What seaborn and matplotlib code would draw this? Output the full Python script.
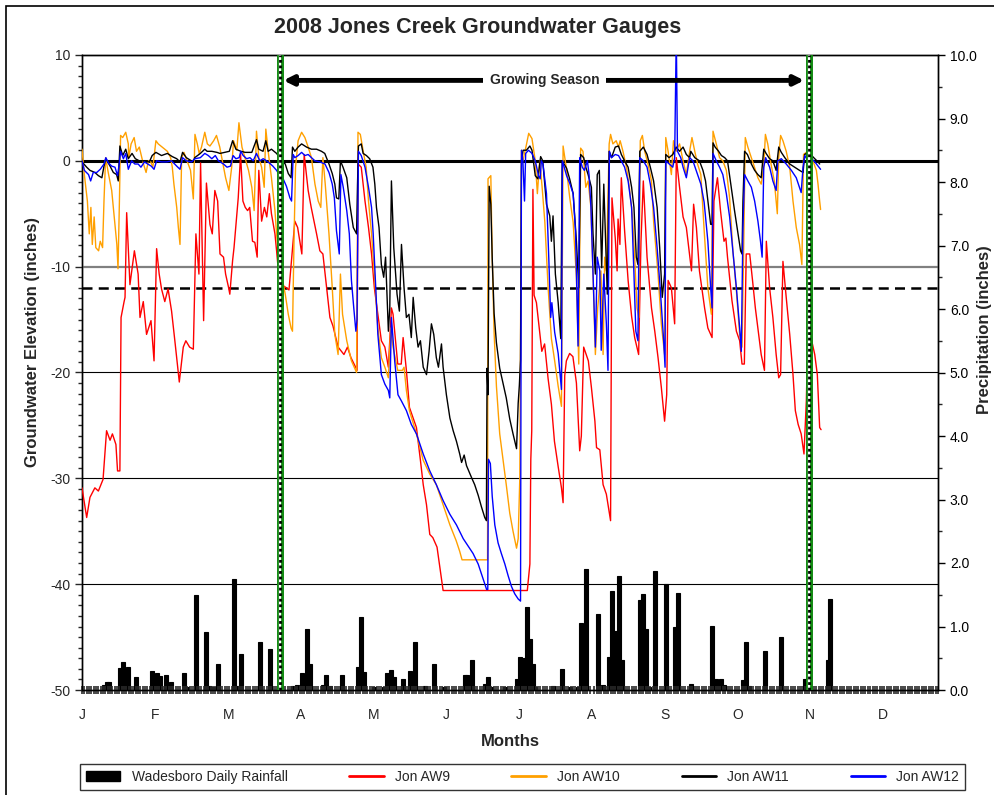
#2008 Jones Creek groundwater gauges with Wadesboro daily rainfall
import pandas as pd
import matplotlib
matplotlib.use("Agg")
import matplotlib.pyplot as plt
import seaborn as sns
from matplotlib.ticker import MultipleLocator, FormatStrFormatter
from matplotlib.patches import Patch, Rectangle
from matplotlib.lines import Line2D

sns.set_theme(style="white")
plt.rcParams["font.family"] = ["Liberation Sans", "DejaVu Sans"]
plt.rcParams["axes.unicode_minus"] = False

# day of year (0 = Jan 1) and water level (inches)
aw9_day = [0, 2, 3.4, 5.5, 7, 9, 10.5, 12, 13, 14.5, 15.2, 16.2, 16.7, 18, 18.4, 19.1, 20.5, 22.4, 24, 24.8,
           26.2, 27.6, 29.5, 30.8, 31.9, 33, 34, 35.4, 36.8, 38.3, 39.7, 41.6, 43.3, 44.4, 46, 47.6, 48.7, 50,
           50.7, 52, 53.2, 54.7, 55.7, 56.8, 58, 59, 60.5, 61.4, 62.7, 63.2, 64.4, 65, 66.8, 67.8, 68.8, 69.8,
           70.8, 71.7, 72.9, 73.9, 74.9, 75.6, 76.8, 78, 79, 80.1, 81, 82.5, 83.2, 84.2, 85, 86, 87.4, 88.5,
           90.3, 91, 92.2, 94, 95, 96.7, 98, 100.3, 101.7, 103, 104.6, 106, 107.3, 109.5, 112, 113.5, 115, 117,
           117.6, 118, 119.4, 121, 122.5, 123.8, 125, 126.5, 128, 129.5, 131, 132.3, 133, 135, 136.5, 137.3,
           138.7, 140, 143, 144.7, 145.9, 147.3, 148.7, 150, 151.8, 153, 154.4, 190.4, 191.5, 191.9, 192.3,
           192.8, 193.3, 194.3, 195.7, 196.6, 197.8, 199.3, 200.7, 202, 203.6, 205, 205.7, 206.4, 207.1, 208.5,
           209.9, 211.4, 212.8, 213.5, 214.5, 216.5, 217.8, 219.3, 220, 221.4, 222.8, 224.2, 225.6, 226, 226.6,
           228, 228.8, 229.2, 230, 230.6, 232, 233.5, 235, 236.3, 238, 239, 240, 241.6, 243.5, 244.9, 246.3,
           247.7, 249.1, 250, 250.6, 252, 253.4, 254.1, 255.5, 257, 258.4, 260.6, 261.5, 262.7, 264, 266.2,
           267.6, 269.4, 270.2, 271.7, 273, 274.5, 275.3, 276, 277.9, 279.8, 281.2, 282.2, 283.2, 284, 285.5,
           286.7, 287.9, 289, 290.4, 291.8, 292.6, 294, 295.4, 296.8, 297.9, 298.7, 299.7, 301.1, 302.6, 304,
           305, 306.2, 307.5, 308.7, 309.7, 310.4, 311.1, 312, 313.3, 314.4, 315.4, 316]
aw9_in = [-30.9, -33.7, -31.8, -30.9, -31.2, -30.1, -25.5, -26.4, -25.8, -26.8, -29.3, -29.3, -14.8, -13.3, -12.9,
          -4.9, -11.7, -8.5, -10.7, -14.8, -13.3, -16.4, -15.1, -18.9, -8.3, -10.7, -12.1, -13.3, -12.1, -14.2,
          -17, -20.9, -17.6, -17, -17.6, -17.8, -6.9, -10.7, -0.2, -15.1, -2.1, -6.0, -6.9, -2.8, -3.8, -8.8,
          -9.1, -10.7, -12, -12.6, -9.4, -8.2, -3.5, 0.6, -3.8, -4.4, -4.7, -4.4, -7.6, -7.7, -9.1, -0.9, -5.7,
          -4.4, -5.3, -3.1, -5.0, -6.9, -8.5, -11, -12, -11.8, -12, -12.2, -7.6, -5.7, -6.3, -8.8, 0.6, -2.8,
          -4.4, -6.9, -8.5, -8.8, -12, -14.8, -15.6, -17.6, -18.3, -17.6, -18.6, -19.5, -19.8, -0.3, -0.6,
          -3.8, -6.3, -8.8, -12, -14.5, -17, -17.6, -19.5, -13.9, -14.5, -19.2, -19.2, -16.7, -19.8, -23.3,
          -25.2, -28.3, -30.6, -32.5, -35.3, -35.6, -36.5, -38.4, -40.6, -40.6, -38.1, -28.2, -25.5, -2.7,
          -12.7, -13.4, -16.2, -18.0, -17.3, -20.6, -23, -26.5, -28.9, -30.9, -32.3, -20.3, -18.9, -18.2, -18.5,
          -21, -27.4, -26, -17.6, -18.9, -21.4, -24.6, -27.1, -27.3, -30.6, -31.5, -33.4, -34, -3.5, -7.3,
          -10.4, -5.5, -7.9, -1.6, -6.6, -11.3, -14.7, -16.7, -18.3, -7.6, -1.9, -9.1, -13.9, -16.1, -18.6,
          -21.4, -24.6, -22.1, -11.3, -12, -15.4, 0.3, -2.5, -5.3, -6.3, -10.4, -4.1, -6.3, -10.4, -13.9,
          -15.8, -16.7, -3.8, -1.6, -4.7, -7.6, -7.3, -9.1, -13.2, -16.1, -17, -19.2, -19.2, -8.8, -8.8,
          -11.3, -13.9, -15.8, -18.3, -19.8, -7.6, -12, -14.8, -18.3, -20.5, -20.2, -9.5, -12.9, -16.4, -20.2,
          -23.6, -24.9, -25.8, -27.7, -22.7, -15.8, -14.8, -17, -18.3, -20.2, -25.2, -25.4]

aw10_day = [0, 1, 2.3, 3.1, 3.8, 4.4, 5.2, 5.9, 7.1, 7.8, 8.8, 9.4, 10.1, 11.3, 12.7, 13.9, 14.9, 15.4, 16,
            16.5, 17.4, 18.7, 19.8, 20, 21, 22.3, 23.3, 24.5, 25.9, 27.4, 28.4, 29.4, 30.3, 31.6, 32.6, 34.3,
            36.5, 37.9, 38.6, 39.3, 40.5, 41.2, 41.9, 42.6, 43.6, 44.9, 46.4, 47.6, 48.3, 49.3, 50.1, 51.1,
            52.5, 53.6, 54.7, 56.3, 57.5, 58.9, 60, 61.4, 62.8, 64, 64.8, 66.2, 67.1, 68.4, 69.8, 71.2, 72.6,
            73.6, 74.6, 75.6, 76.8, 77.9, 78.6, 79.6, 81, 82.5, 83.2, 84.2, 85.5, 86.9, 88.2, 89.4, 90, 90.7,
            91.3, 92.4, 93.9, 95.3, 96.7, 98.1, 99.6, 101, 102.1, 103, 104, 105.6, 107, 108.1, 109.5, 110.5,
            111.4, 113.2, 115.2, 117.4, 117.8, 118, 119, 120.4, 121.5, 122.5, 123.8, 125.2, 126.5, 128, 129.5,
            131, 132, 133, 135, 137, 137.7, 138.7, 140, 143, 145.9, 148.7, 151.5, 154.4, 157.3, 160, 161.5,
            162.5, 173.4, 173.6, 174.8, 175.4, 176.2, 177.2, 178.6, 180, 181.4, 182.9, 184.3, 185.8, 186.5,
            187.2, 187.9, 188.5, 189.9, 191, 192.4, 193.8, 194.7, 195.7, 196.7, 197.9, 199.3, 200.7, 202.1,
            203.6, 205, 205.7, 207.1, 208.5, 210, 211.4, 212.4, 213.2, 214.2, 215.4, 216.4, 217.6, 218.5,
            219.5, 220.5, 221.9, 222.8, 223.5, 224.2, 225.4, 226, 227, 228.4, 229.4, 230.1, 231.3, 232.8,
            234.2, 235.4, 236.3, 237.3, 238.1, 238.7, 239.6, 240.6, 242, 243.5, 244.4, 246.3, 247.7, 249.1,
            249.6, 250.6, 252, 252.9, 254, 255.5, 257, 258.4, 259.8, 260.8, 262, 263.2, 264.6, 266, 267.6,
            269.1, 269.8, 271.2, 272.6, 274, 275.5, 276.9, 278.3, 279.8, 281.2, 282.2, 282.9, 283.6, 284.7,
            286.2, 287.6, 289, 290.4, 291.5, 292.2, 293.2, 294.6, 296, 297.3, 297.9, 298.7, 299.7, 301.1,
            302.6, 304, 305.4, 306.8, 307.8, 308.5, 309.7, 311.1, 312.5, 314, 314.7, 315.4, 315.8]
aw10_in = [1.1, -1.3, -3.8, -6.9, -4.4, -7.9, -5.3, -8.2, -8.5, -7.6, -8.2, -3.8, 0.3, -1.2, -2.8, -5.6, -7.9,
           -10.2, -3.8, 2.4, 2.2, 2.7, 1.6, 0.3, 1.6, 2.2, 0.9, 1.3, 0, -1.1, 0, -0.1, -0.6, 1.9, 1.6, 1.3, 0.9,
           0.3, -0.6, -2.2, -4.4, -6.3, -7.9, 0.3, 0.8, 0, -0.9, -3.6, 2.5, 1.6, 0.7, 1.3, 2.7, 1.6, 1.4, 1.9,
           2.4, 1.3, 0, -1.6, -2.8, -0.6, 1.9, 1.0, 3.6, 1.3, 0.2, -0.9, -2.5, -4.7, 2.8, 0.3, -0.6, -2.5, 3.0,
           0.9, -1.6, -4.7, -6.9, -9.5, -11, -12.6, -14.5, -15.8, -16.1, -6.9, -0.6, 1.9, 2.7, 2.2, 1.3, 0.3,
           -2.2, -3.8, -4.4, 0.3, -2.2, -6.9, -12, -16.4, -18.3, -10.7, -14.5, -17, -18.9, -20, -6.3, 2.7, 2.5,
           0.7, -0.6, -3.8, -6.9, -11.3, -15.8, -18.6, -19.5, -20.5, -15.8, -17.6, -19.8, -19.8, -19.5, -21.7,
           -23.6, -25.8, -28.3, -29.6, -30.6, -32.5, -34.4, -35.9, -36.9, -37.7, -37.7, -1.7, -1.4, -9.2, -16.2,
           -21.3, -25.8, -28.2, -30.6, -33.3, -35, -36.6, -35.7, -29.9, 1.0, 0, 1.4, 2.6, 2.1, 0, -3.1, 0, -2.4,
           -5.8, -12, -16.8, -18.9, -21.3, -23.2, 1.4, -0.7, -3.4, -5.8, -11, -19.2, 1.2, 0.9, -2.5, -1.9,
           -4.4, -10.7, -18.3, -13.9, -10.4, -18.3, -9.1, -10.4, 1.6, 2.5, 1.6, 1.9, 1.3, 1.9, 0.9, -0.6, -2.8,
           -5.4, -9.1, -13.9, -14.8, 1.9, 2.4, 0.9, -0.3, -1.9, -5.7, -10.7, -15.4, -18.3, 2.2, 0.9, -1.3, 1.9,
           0.9, 1.6, 0, -1.3, 0.9, 2.2, 0.9, -0.3, -1.3, -6.5, -12, -14.5, 2.8, 1.6, 0.3, 0, -0.9, -3.5, -8.5,
           -12.3, -16.4, -17.6, -8.5, 2.2, 1.3, 0.3, -0.6, -1.6, -2.2, -0.6, 2.5, 1.6, -0.3, -1.9, -5.0, 0.3,
           2.4, 1.9, 0.9, -0.6, -3.8, -6.3, -7.9, -9.8, 0.6, 0.8, 0.6, 0, -0.9, -2.2, -3.8, -4.6]

aw11_day = [0, 2, 3.4, 5.5, 7, 8.5, 9.4, 10.2, 12, 13.4, 14.8, 15.5, 16.2, 17.4, 18.7, 19.8, 21.4, 22.8, 24.5,
            26.7, 28.8, 30, 31.6, 34, 36.5, 38.6, 40.5, 41.9, 43, 44.6, 47.5, 48.2, 50.6, 52.5, 53.5, 55.5,
            57.7, 59, 61, 63, 64.4, 65.8, 67.9, 69.8, 72.6, 74.6, 75.6, 77.4, 78.6, 79.6, 81, 83.2, 85.5, 86.9,
            88.2, 89.4, 90, 91, 92.4, 93.9, 96, 98.1, 100.3, 102.4, 103.8, 105.6, 107, 108.1, 108.8, 109.8,
            110.5, 111.6, 113.2, 114.5, 116, 117.4, 117.8, 118.2, 119.4, 120.2, 121.6, 123, 124.4, 125.2,
            125.9, 127, 128, 129, 129.8, 131, 131.6, 132.3, 133.3, 134.7, 135.7, 136.6, 137.7, 138.7, 139.8,
            140.8, 141.6, 142.7, 143.7, 144.7, 145.9, 147.3, 148.4, 149.4, 150.4, 151.5, 152.4, 153.7, 154.4,
            155.8, 157.3, 158.7, 160.1, 161.5, 162.3, 163.4, 164.4, 166.5, 167.9, 169.4, 170.8, 172.2, 172.9,
            173.2, 173.6, 174.1, 174.8, 175.4, 176.2, 177.2, 178.6, 180, 181.4, 182.9, 184.3, 185.8, 186.5,
            187, 187.5, 187.9, 188.6, 190, 191.5, 192.4, 193.8, 194.9, 196.1, 197, 198.6, 200, 200.7, 201.4,
            202.4, 203.6, 204.7, 205.3, 207.2, 208.5, 210, 211.4, 212.4, 213.2, 214.5, 215.4, 216.4, 217.8,
            218.5, 219.5, 220.3, 221.2, 221.7, 222.2, 223.1, 223.9, 224.6, 225.4, 226.4, 228, 229.4, 230.6,
            232, 233.5, 235, 236, 237, 237.7, 238.5, 240, 241.6, 243, 244.4, 245.9, 247, 248.1, 249.1, 249.6,
            251, 252.6, 254.1, 255.5, 257, 258.4, 259.8, 260.3, 262, 264, 265.5, 266.6, 267.6, 268.8, 269.4,
            269.8, 270.7, 272.2, 273.4, 274.8, 276, 277.4, 279, 280.5, 281.6, 282.2, 282.6, 283.3, 284.5,
            286.2, 287.6, 289, 290.4, 291.5, 292.5, 294, 295.4, 296.8, 297.9, 299, 300.5, 302.6, 304.7, 306.8,
            308.3, 309, 310.4, 312, 313.3, 314.7, 315.4]
aw11_in = [-0.1, -0.6, -0.9, -1.1, -1.4, -1.6, -0.5, 0.2, -0.5, -1.1, -1.3, -1.9, 1.4, 0.5, 1.1, 0.2, 0.7, 0.2,
           0, 0, -0.1, 0.5, 0.8, 0.5, 0.7, 0.4, 0.2, -0.1, 0.8, 0.3, -0.1, 0.3, 0.7, 1.1, 0.9, 0.9, 0.8, 0.7,
           0.8, 0.9, 1.9, 1.1, 0.9, 0.8, 0.8, 2.0, 1.1, 0.9, 1.9, 0.9, 1.1, 0.7, 0, -0.3, -1.2, -1.6, 1.3, 0.9,
           1.3, 1.6, 1.3, 1.1, 1.1, 0.9, 0.7, -0.3, -1.2, -2.2, -3.5, -3.6, 0, -0.6, -1.6, -4.1, -6.3, -6.9,
           -2.2, 1.4, 1.6, 0.7, 0.5, 0.2, -0.6, -2.2, -4.4, -6.3, -9.8, -11, -9.1, -16.1, -13.9, -1.9, -8.2,
           -12.6, -14.2, -7.9, -12, -14.8, -14.5, -16.7, -12.9, -15.8, -17.6, -17, -19.5, -20.2, -18, -15.4,
           -16.4, -18.6, -19.5, -17.3, -19.5, -22.1, -24.3, -25.5, -26.5, -27.7, -28.5, -27.8, -28.8, -29.9,
           -30.6, -31.6, -32.7, -33.7, -34, -19.6, -22.1, -2.4, -4.1, -9.2, -14.4, -17.2, -19.6, -21, -22.4,
           -24.4, -25.8, -27.2, -22.9, -21.2, -18.8, 0, 1.0, 1.0, 1.4, 1.0, -1.4, -1.7, 0.4, 0, -4.1, -5.2,
           -7.6, -5.2, -10.7, -13.4, -16.8, 0, -0.7, -1.7, -3.1, -7.6, -12, 0.6, 0.3, -0.6, -1.3, -2.5, -6.9,
           -10.7, -1.3, -0.9, -6.0, -10.1, -2.2, -7.6, -12.6, 0.9, 0.3, 1.3, 1.4, 0.6, 0, -0.6, -2.5, -4.4,
           -9.1, -9.8, 0.9, 1.3, 0.6, -0.6, -1.9, -4.4, -8.2, -12.9, -10.7, 0.6, 0.3, 0.6, 1.3, 0.9, 1.3, 0.6,
           0.3, 0.9, 0.3, 0, -0.9, -1.9, -3.8, -6, -6, 1.7, 1.3, 0.9, 0.5, 0.3, 0, -2.2, -4.7, -6.9, -8.5,
           -8.8, -3.8, 0.9, 0.6, -0.3, -0.9, -1.3, -1.6, 1.1, 0.7, 0.2, 0, -0.9, 1.3, 0.8, 0.3, -0.3, -0.6,
           -0.9, -1.1, 0.6, 0.8, 0.5, 0.2, -0.1, -0.3]

aw12_day = [0, 1, 2.8, 3.7, 4.8, 6.3, 7.8, 9.4, 10.2, 11.3, 12.7, 14.1, 15.2, 15.9, 16.5, 17.7, 18.7, 19.8,
            21.2, 22.6, 24, 25.2, 26.7, 28.1, 29.6, 30.8, 31.9, 34, 36.2, 38.3, 40.5, 41.9, 43, 44.6, 46.8,
            48.3, 50.6, 52.5, 54, 55.5, 57, 58.3, 60.5, 62, 63.5, 64.6, 65.8, 67.2, 67.9, 68.9, 70.4, 71.8,
            73.2, 74.6, 76, 77.5, 78.9, 80.1, 81.6, 83.2, 84.6, 86, 87.4, 88.9, 89.6, 90.3, 91, 92.4, 93.9,
            95.3, 96.7, 98.1, 99.6, 101.7, 103.9, 105.6, 107, 107.9, 108.8, 110, 110.7, 111.7, 113.2, 114.3,
            115.2, 116.2, 117.1, 117.6, 118.2, 119.4, 121, 122.5, 123.8, 124.5, 125.6, 126.5, 128, 129.5, 131,
            131.6, 132.3, 133.7, 135.1, 136.6, 138.7, 140.8, 143, 145.9, 148.7, 151.5, 154.4, 157.3, 160.1,
            163, 165.1, 167.2, 169.4, 171.5, 173, 173.5, 173.8, 174.6, 175.4, 176.5, 177.9, 179.3, 180.8,
            182.2, 183.6, 185, 186.5, 187.5, 187.9, 188.5, 189.2, 189.7, 190.9, 192.4, 193.8, 195.2, 195.9,
            196.4, 197.1, 198.6, 199.6, 200.4, 200.9, 202.1, 203.6, 205, 205.4, 207.2, 208.5, 210, 211, 212.1,
            212.8, 213.9, 214.8, 216.1, 216.8, 217.6, 218.5, 219.5, 220.3, 221.4, 222, 223.1, 224.2, 224.9,
            225.5, 226.4, 228, 229.4, 230.6, 232, 233.5, 235, 236, 236.8, 237.7, 238.5, 240, 241.6, 243, 244.4,
            245.9, 247.3, 248.7, 249.3, 249.6, 251.1, 252.6, 253.4, 254.1, 254.6, 256, 257, 258.4, 259.8, 261.2,
            263.2, 264.6, 266, 267.6, 268.8, 269.4, 269.8, 271.2, 272.6, 274, 275.5, 276.9, 278.3, 279.8, 281.2,
            281.9, 282.6, 283.3, 284.7, 286.2, 287.6, 289, 290.1, 290.8, 291.5, 292.3, 294, 295.4, 296.8, 297.5,
            299, 301.1, 303.3, 305.4, 307.5, 308.3, 309, 310.4, 312, 313.3, 314.7, 315.8]
aw12_in = [0, -0.9, -1.3, -1.9, -1.1, -1.1, -0.8, -0.3, 0.3, -0.2, -0.5, -0.6, -1.4, -0.3, 0.9, 0.2, 0.7, -0.8,
           0, -0.3, -0.3, -0.6, -0.1, -0.3, -0.5, -0.8, 0, -0.1, -0.1, 0, -0.5, -0.8, 0.3, 0, -0.1, 0.2, 0.3,
           0.7, 0.5, 0.2, 0.5, 0, -0.3, -0.6, -0.5, 0.5, 0.2, 0.3, 0.9, 0.5, 0.2, 0.3, 0, 0.7, 0, 0.2, 0, -0.2,
           -0.5, -0.9, -1.4, -1.7, -2.4, -3.5, -3.8, 0.6, 0.3, 0.5, 0.8, 0.5, 0.6, 0.3, 0, -0.1, -0.3, -1.1,
           -2.2, -3.5, -6.6, -8.8, -1.3, -2.5, -4.7, -6.9, -11.3, -13.9, -16.1, -15, 0.9, 0.5, -0.6, -2.5,
           -4.4, -6.9, -12, -16.4, -20.2, -21.1, -21.7, -22.4, -14.8, -18.9, -22.1, -22.7, -23.6, -24.9,
           -25.8, -27.7, -29.3, -30.6, -32.1, -33.4, -34.4, -35.7, -36.4, -37.1, -38.1, -39.5, -40.5, -40.5,
           -28.2, -28.6, -31.7, -34.4, -36.1, -37.1, -38.1, -39.2, -40.2, -40.9, -41.4, -41.6, 1.0, 0, -3.8,
           0.7, 1.0, 0.7, 0, -1.4, -1.7, 0, -0.3, -3.1, -9.3, -14.8, -13.4, -16.2, -18.2, -21.6, 0, -1.4, -2.1,
           -3.1, -6.6, -17.5, 0.3, -0.6, -0.9, 0, -1.3, -4.4, -10.7, -17.6, -9.1, -10.4, -17.9, -10.7, -15.4,
           -19.8, 0.9, 0.3, 0.6, 0.5, 0, -0.6, -1.9, -4.4, -10.7, -16.1, -17, 0.3, 0, -0.6, -2.2, -4.4, -8.2,
           -12.3, -17, -19.5, 0, -0.3, -0.6, 0.3, 12, 0.9, 0.3, -0.6, -1.6, 0.3, 0, -1.3, -2.2, -3.9, -7.6,
           -12, -13.9, 0.7, 0, -0.6, -1.3, -3.1, -5.3, -8.5, -12, -15.8, -18, -6.3, -1.3, -1.9, -2.5, -3.8,
           -5.7, -7.6, -9.1, -0.6, 0.3, -0.6, -1.9, -2.8, 0, 0.2, -0.3, -0.9, -1.6, -3.0, -0.6, 0.5, 0, 0.2,
           -0.1, -0.5, -0.8]

# Wadesboro daily rainfall (inches), rain days only
rain_day = [9.4, 10.5, 11.7, 16.2, 17.4, 18.6, 19.8, 23, 29.8, 32.1, 33.4, 36, 37.9, 43.6, 45, 48.9, 52.9,
            54.4, 56.1, 58, 65.1, 66.5, 68.1, 76, 80.2, 90.2, 92, 94.2, 96.4, 97.6, 103, 104.5, 106, 111,
            117.9, 119.1, 120.5, 125, 129, 130.3, 132, 133.4, 137.2, 140.3, 142.2, 146.5, 150.5, 154.7, 163.7,
            164.8, 166.8, 172.5, 173.6, 174.8, 180.8, 186.2, 187.3, 188.5, 190.3, 191.7, 192.9, 193.9, 201.4,
            205.4, 208.5, 212.1, 213.5, 215.7, 220.6, 221.8, 222.6, 225.4, 226.6, 228, 229.6, 230.9, 238.6,
            239.9, 241, 242.3, 244.9, 249.9, 253.4, 254.8, 260.5, 269.5, 270.9, 273.4, 274.6, 282.6, 283.8,
            285, 291.9, 299, 309, 310.2, 318.9, 320]
rain_in = [0.08, 0.12, 0.12, 0.34, 0.44, 0.18, 0.37, 0.21, 0.30, 0.27, 0.22, 0.24, 0.12, 0.27, 0.04, 1.50, 0.92,
           0.06, 0.05, 0.41, 1.75, 0.06, 0.56, 0.76, 0.64, 0.06, 0.08, 0.27, 0.96, 0.41, 0.08, 0.24, 0.06, 0.24,
           0.36, 1.15, 0.28, 0.04, 0.04, 0.27, 0.32, 0.21, 0.18, 0.30, 0.76, 0.07, 0.41, 0.04, 0.23, 0.23, 0.48,
           0.10, 0.21, 0.04, 0.04, 0.17, 0.52, 0.50, 1.30, 0.80, 0.41, 0.04, 0.06, 0.33, 0.04, 0.04, 1.05, 1.90,
           1.20, 0.06, 0.08, 0.52, 1.56, 0.93, 1.80, 0.48, 1.42, 1.51, 0.96, 0.04, 1.88, 1.67, 0.99, 1.53, 0.10,
           1.01, 0.18, 0.17, 0.08, 0.15, 0.75, 0.07, 0.62, 0.84, 0.17, 0.17, 0.47, 1.43]

month_labels = ["J", "F", "M", "A", "M", "J", "J", "A", "S", "O", "N", "D"]
season_start, season_end = 84.6, 310.8

gauges = {"Jon AW9": (aw9_day, aw9_in), "Jon AW10": (aw10_day, aw10_in),
          "Jon AW11": (aw11_day, aw11_in), "Jon AW12": (aw12_day, aw12_in)}
colors = {"Jon AW9": "#ff0000", "Jon AW10": "#ffa000", "Jon AW11": "#000000", "Jon AW12": "#0000ff"}
df = pd.concat([pd.DataFrame({"day": d, "elev": v, "gauge": name}) for name, (d, v) in gauges.items()])

fig = plt.figure(figsize=(9.94, 7.95), dpi=100)
ax = fig.add_axes([82 / 994, 105 / 795, 856 / 994, 635 / 795])
ax2 = ax.twinx()
ax.set_zorder(ax2.get_zorder() + 1)
ax.patch.set_visible(False)

# rainfall bars on the right axis
ax2.bar(rain_day, rain_in, width=1.7, color="black", edgecolor="black", linewidth=0.8, align="center")
ax2.set_ylim(0, 10)
ax2.yaxis.set_major_locator(MultipleLocator(1))
ax2.yaxis.set_minor_locator(MultipleLocator(0.5))
ax2.yaxis.set_major_formatter(FormatStrFormatter("%.1f"))
ax2.tick_params(axis="y", which="major", length=5, width=1, labelsize=10, direction="out", colors="black")
ax2.tick_params(axis="y", which="minor", length=3, width=1, direction="out")
ax2.set_ylabel("")
ax2.grid(False)

# reference lines
for lvl in [-20, -30, -40]:
    ax.axhline(lvl, color="black", lw=0.8, zorder=1)
ax.axhline(-10, color="#808080", lw=1.6, zorder=1)
ax.axhline(-12, color="black", lw=1.8, ls=(0, (4, 2.5)), zorder=1)
ax.axhline(0, color="black", lw=2.2, zorder=1)

sns.lineplot(data=df, x="day", y="elev", hue="gauge", palette=colors, estimator=None, sort=False,
             lw=1.0, legend=False, ax=ax, zorder=3)

# growing season markers
for d in [season_start, season_end]:
    ax.axvline(d, color="#118811", lw=5, zorder=4)
    ax.axvline(d, color="white", lw=1.6, zorder=4)
    ax.axvline(d, color="black", lw=2, ls=(0, (1, 1)), zorder=5)
ax.annotate("", xy=(season_start + 1.5, 7.6), xytext=(season_end - 2, 7.6),
            arrowprops=dict(arrowstyle="<|-|>", lw=3.5, color="black", mutation_scale=14,
                            shrinkA=0, shrinkB=0), zorder=5)
ax.text((season_start + season_end) / 2, 7.6, "Growing Season", ha="center", va="center",
        fontsize=10, fontweight="bold", zorder=6,
        bbox=dict(facecolor="white", edgecolor="none", pad=5))

ax.set_xlim(0, 366)
ax.set_ylim(-50, 10)
ax.yaxis.set_major_locator(MultipleLocator(10))
ax.yaxis.set_minor_locator(MultipleLocator(1))
ax.tick_params(axis="y", which="major", length=5, width=1, labelsize=10, direction="out", left=True)
ax.tick_params(axis="y", which="minor", length=3, width=1, direction="out", left=True)
ax.set_xticks([k * 31.1 + 0.3 for k in range(12)])
ax.set_xticklabels(month_labels)
ax.xaxis.set_minor_locator(MultipleLocator(1))
ax.tick_params(axis="x", which="major", length=0, pad=13, labelsize=10)
ax.tick_params(axis="x", which="minor", length=6, width=1.2, direction="inout", color="#2a2a2a", bottom=True)
ax.set_xlabel("")
ax.set_ylabel("")
ax.grid(False)
for a in (ax, ax2):
    for s in a.spines.values():
        s.set_color("black")
        s.set_linewidth(1)

fig.text(478 / 994, 1 - 28 / 795, "2008 Jones Creek Groundwater Gauges", ha="center", va="center",
         fontsize=15.5, fontweight="bold")
fig.text(33 / 994, 1 - 342 / 795, "Groundwater Elevation (inches)", rotation=90, ha="center", va="center",
         fontsize=12, fontweight="bold")
fig.text(984 / 994, 1 - 330 / 795, "Precipitation (inches)", rotation=90, ha="center", va="center",
         fontsize=12, fontweight="bold")
fig.text(510 / 994, 1 - 742 / 795, "Months", ha="center", va="center", fontsize=12, fontweight="bold")

handles = [Patch(facecolor="black", edgecolor="black")] + \
          [Line2D([0], [0], color=colors[n], lw=2) for n in gauges]
labels = ["Wadesboro Daily Rainfall"] + list(gauges)
fig.legend(handles, labels, loc="center", ncol=5, mode="expand",
           bbox_to_anchor=(76 / 994, 2 / 795, 893 / 994, 32 / 795), frameon=True, fancybox=False,
           edgecolor="black", fontsize=10, handlelength=2.5, borderaxespad=0.3)

fig.patches.append(Rectangle((6 / 994, -0.05), 1.2, 1 - 6 / 795 + 0.05, transform=fig.transFigure,
                             fill=False, edgecolor="black", lw=1.2))

fig.savefig("out.png", dpi=100)
